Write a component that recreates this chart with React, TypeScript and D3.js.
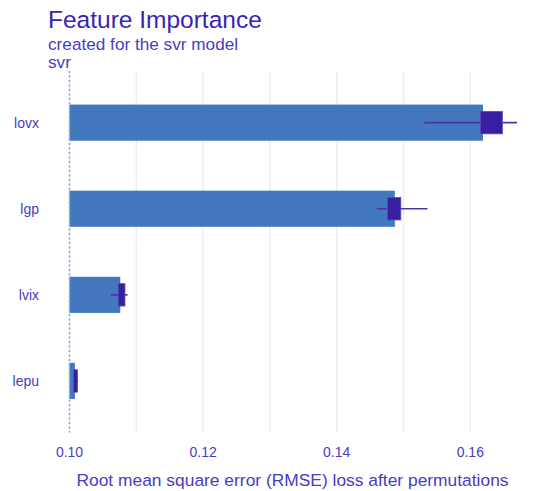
import React, { useEffect } from "react";
import * as d3 from "d3";

// Permutation-based variable importance for the svr model
const features = ["lovx", "lgp", "lvix", "lepu"];
const meanLoss = [0.1619, 0.1487, 0.1076, 0.1008];
const boxLow = [0.1615, 0.1476, 0.1073, 0.1006];
const boxHigh = [0.1648, 0.1496, 0.1083, 0.1012];
const whiskerLow = [0.1531, 0.146, 0.1062, 0.1005];
const whiskerHigh = [0.167, 0.1536, 0.1087, 0.1013];
const fullModelLoss = 0.1;
const xTicks = [0.1, 0.12, 0.14, 0.16];
const gridValues = [0.1, 0.11, 0.12, 0.13, 0.14, 0.15, 0.16];

const W = 534;
const H = 491;
const FONT = "'Liberation Sans', Arial, sans-serif";
const TITLE = "#3a24b4";
const TEXT = "#4a3cc2";
const BAR = "#4378bf";
const BOX = "#371ea3";

export default function App() {
  useEffect(() => {
    document.body.style.margin = "0";
  }, []);

  const x = d3.scaleLinear().domain([0.1, 0.16]).range([69.5, 470.3]);
  const y = d3.scalePoint<string>().domain(features).range([71, 432.6]).padding(0.6);
  const step = y.step();
  const barH = step * 0.42;
  const boxH = step * 0.26;
  const panelTop = 71;
  const panelBottom = 432.6;

  return (
    <svg width={W} height={H} style={{ display: "block", background: "#fff" }} fontFamily={FONT}>
      {/* vertical grid */}
      {gridValues.map((v) => (
        <line key={v} x1={x(v)} x2={x(v)} y1={panelTop} y2={panelBottom} stroke="#ebebf0" strokeWidth={1.3} />
      ))}
      {/* bars from the full-model loss */}
      {features.map((f, i) => (
        <rect
          key={f}
          x={x(fullModelLoss)}
          y={(y(f) as number) - barH / 2}
          width={x(meanLoss[i]) - x(fullModelLoss)}
          height={barH}
          fill={BAR}
        />
      ))}
      {/* full model reference line */}
      <line
        x1={x(fullModelLoss)}
        x2={x(fullModelLoss)}
        y1={panelTop}
        y2={panelBottom}
        stroke="#86a8dc"
        strokeWidth={1.6}
        strokeDasharray="2,2.5"
      />
      {/* boxplots of permutation losses */}
      {features.map((f, i) => {
        const cy = y(f) as number;
        return (
          <g key={f}>
            <line
              x1={x(whiskerLow[i])}
              x2={x(whiskerHigh[i])}
              y1={cy}
              y2={cy}
              stroke="#4a35b0"
              strokeWidth={1.6}
            />
            <rect
              x={x(boxLow[i])}
              y={cy - boxH / 2}
              width={x(boxHigh[i]) - x(boxLow[i])}
              height={boxH}
              fill={BOX}
              stroke="#5a49bb"
              strokeWidth={0.8}
            />
          </g>
        );
      })}
      {/* y axis labels */}
      {features.map((f) => (
        <text
          key={f}
          x={39}
          y={(y(f) as number) + 5}
          textAnchor="end"
          fontSize={14}
          fill={TEXT}
        >
          {f}
        </text>
      ))}
      {/* x axis tick labels */}
      {xTicks.map((t) => (
        <text key={t} x={x(t)} y={457} textAnchor="middle" fontSize={14} fill={TEXT}>
          {d3.format(".2f")(t)}
        </text>
      ))}
      <text x={292.5} y={486} textAnchor="middle" fontSize={17.4} fill={TEXT}>
        Root mean square error (RMSE) loss after permutations
      </text>
      {/* titles */}
      <text x={48} y={28} fontSize={24.5} fill={TITLE}>
        Feature Importance
      </text>
      <text x={48} y={49.5} fontSize={17.2} fill={TEXT}>
        created for the svr model
      </text>
      <text x={48} y={68} fontSize={17.2} fill={TEXT}>
        svr
      </text>
    </svg>
  );
}
